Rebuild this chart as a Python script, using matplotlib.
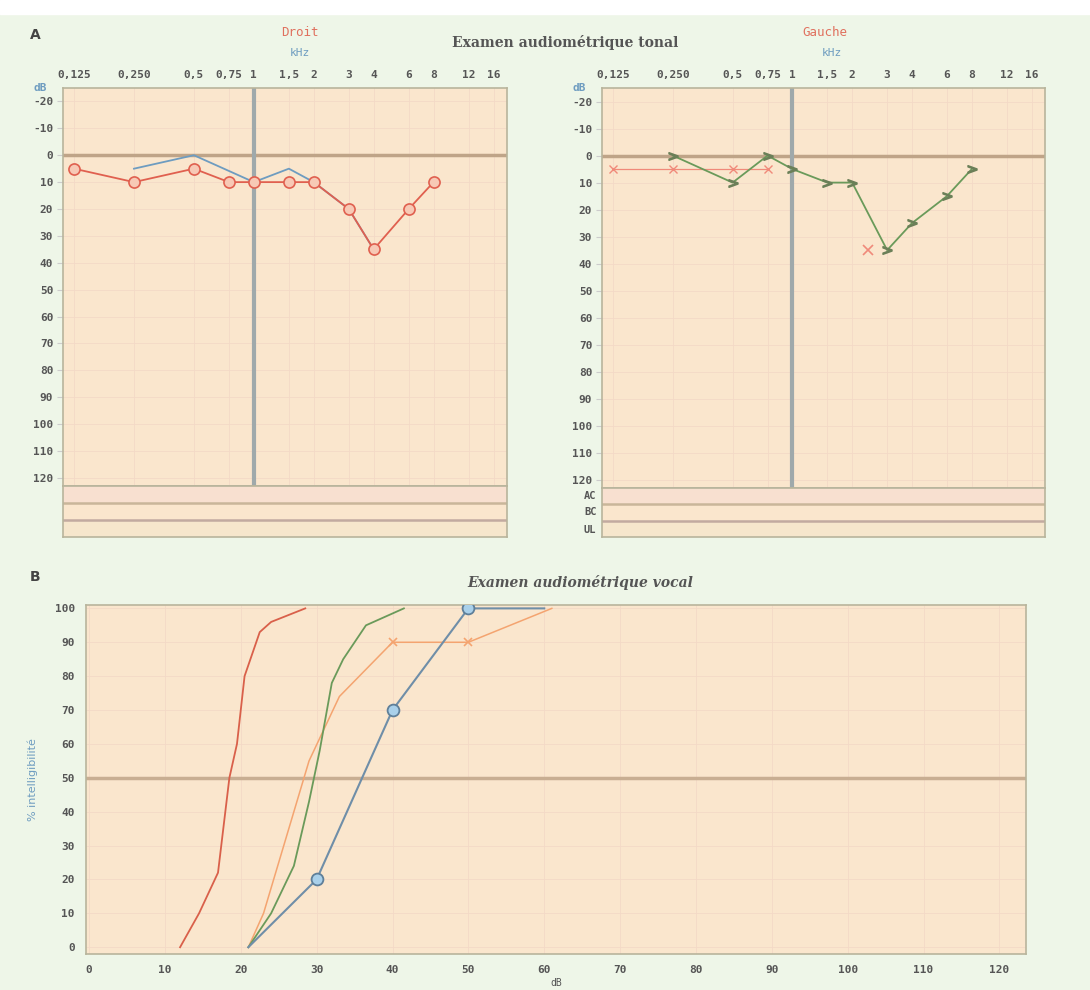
import numpy as np
import matplotlib.pyplot as plt
from matplotlib.patches import Rectangle

plt.rcParams['axes.unicode_minus'] = False

# audiogram frequencies (kHz)
freq_ticks = [0.125, 0.25, 0.5, 0.75, 1, 1.5, 2, 3, 4, 6, 8, 12, 16]
freq_labels = ['0,125', '0,250', '0,5', '0,75', '1', '1,5', '2', '3', '4', '6', '8', '12', '16']
db_ticks = [-20, -10, 0, 10, 20, 30, 40, 50, 60, 70, 80, 90, 100, 110, 120]

# right ear (Droit)
droit_ac_f = [0.125, 0.25, 0.5, 0.75, 1, 1.5, 2, 3, 4, 6, 8]
droit_ac_db = [5, 10, 5, 10, 10, 10, 10, 20, 35, 20, 10]
droit_bc_f = [0.25, 0.5, 1, 1.5, 2, 3, 4]
droit_bc_db = [5, 0, 10, 5, 10, 20, 35]

# left ear (Gauche)
gauche_bc_f = [0.25, 0.5, 0.75, 1, 1.5, 2, 3, 4, 6, 8]
gauche_bc_db = [0, 10, 0, 5, 10, 10, 35, 25, 15, 5]
gauche_ac_f = [0.125, 0.25, 0.5, 0.75]
gauche_ac_db = [5, 5, 5, 5]
gauche_x_f = [2.4]
gauche_x_db = [35]

# speech audiometry (dB vs % intelligibility)
rouge_db = [12, 14.5, 17, 18.5, 19.5, 20.5, 22.5, 24, 28.5]
rouge_pct = [0, 10, 22, 50, 60, 80, 93, 96, 100]
vert_db = [21, 24, 27, 29, 30.4, 32, 33.5, 36.5, 41.5]
vert_pct = [0, 10, 24, 43, 58, 78, 85, 95, 100]
orange_db = [21, 23, 25, 27, 29, 33, 40, 50, 61]
orange_pct = [0, 10, 25, 40, 55, 74, 90, 90, 100]
orange_mark_db = [40, 50]
orange_mark_pct = [90, 90]
bleu_db = [21, 30, 40, 50, 60]
bleu_pct = [0, 20, 70, 100, 100]
bleu_mark_db = [30, 40, 50]
bleu_mark_pct = [20, 70, 100]

BG = '#eef6e8'
FACE = '#fae6cd'
GRID = '#f3d9c6'
TXT = '#555555'
RED = '#e0604f'
BLUE = '#6e9cc0'
GREEN = '#6a9a5a'
ORANGE = '#f4a470'
MONO = 'DejaVu Sans Mono'

W, H = 1090, 990


def box(x0, y0, x1, y1):
    return [x0 / W, 1 - y1 / H, (x1 - x0) / W, (y1 - y0) / H]


def audiogram(ax, band, band_labels):
    ax.set_facecolor(FACE)
    ax.set_xscale('log', base=2)
    ax.set_xlim(0.11, 18.7)
    ax.set_ylim(123, -25)
    ax.xaxis.tick_top()
    ax.set_xticks(freq_ticks)
    ax.set_xticklabels(freq_labels)
    ax.xaxis.set_minor_locator(plt.NullLocator())
    ax.set_yticks(db_ticks)
    ax.tick_params(axis='x', length=0, pad=6, labelsize=8, colors=TXT)
    ax.tick_params(axis='y', length=4, width=0.8, color='#cccccc', pad=3,
                   labelsize=8, colors=TXT)
    for lab in ax.get_xticklabels() + ax.get_yticklabels():
        lab.set_family(MONO)
        lab.set_weight('bold')
    ax.grid(True, color=GRID, lw=0.6)
    ax.set_axisbelow(True)
    ax.axhline(0, color='#bfa488', lw=2.5, zorder=1.5)
    ax.axvline(1, color='#9fa9ab', lw=3, zorder=1.5)
    for s in ax.spines.values():
        s.set_color('#b8b49c')
        s.set_linewidth(1.2)
    ax.text(-0.035, 1.0, 'dB', transform=ax.transAxes, ha='right', va='center',
            color=BLUE, fontsize=8, family=MONO, weight='bold')

    band.set_facecolor(FACE)
    band.set_xlim(0, 1)
    band.set_ylim(3, 0)
    band.axhspan(0, 1, color='#f8e0d0', lw=0)
    band.axhspan(2, 3, color='#f6e6cc', lw=0)
    band.axhline(1, color='#c9b69a', lw=1.8)
    band.axhline(2, color='#c2aaa0', lw=1.8)
    band.set_xticks([])
    band.set_yticks([0.4, 1.4, 2.5])
    band.set_yticklabels(band_labels)
    band.tick_params(axis='y', length=0, pad=4, labelsize=7.5, colors=TXT)
    for lab in band.get_yticklabels():
        lab.set_family(MONO)
        lab.set_weight('bold')
    for s in band.spines.values():
        s.set_color('#b8b49c')
        s.set_linewidth(1.2)


fig = plt.figure(figsize=(W / 100, H / 100), dpi=100)
fig.patch.set_facecolor(BG)
fig.patches.append(Rectangle((0, 1 - 14 / H), 1, 14 / H, transform=fig.transFigure,
                             color='white', zorder=0))

# panel A
ax_l = fig.add_axes(box(63, 88, 507, 486))
band_l = fig.add_axes(box(63, 486, 507, 537))
ax_r = fig.add_axes(box(602, 88, 1045, 488))
band_r = fig.add_axes(box(602, 488, 1045, 537))
audiogram(ax_l, band_l, ['', '', ''])
audiogram(ax_r, band_r, ['AC', 'BC', 'UL'])

ax_l.plot(droit_bc_f, droit_bc_db, color=BLUE, lw=1.3, zorder=3)
ax_l.plot(droit_ac_f, droit_ac_db, color=RED, lw=1.3, marker='o', ms=8,
          mfc='#f7c9b5', mec=RED, mew=1.2, zorder=4)

ax_r.plot(gauche_ac_f, gauche_ac_db, color='#f08a7a', lw=0.9, marker='x', ms=6,
          mew=1, zorder=3)
ax_r.plot(gauche_x_f, gauche_x_db, ls='none', color='#f08a7a', marker='x', ms=7,
          mew=1.2, zorder=3)
ax_r.plot(gauche_bc_f, gauche_bc_db, color=GREEN, lw=1.3, marker='$>$', ms=6.5,
          mec='#6b7f58', zorder=4)

fig.text(35 / W, 1 - 35 / H, 'A', fontsize=10, weight='bold', color='#444444',
         ha='center', va='center')
fig.text(565 / W, 1 - 42 / H, 'Examen audiométrique tonal', fontsize=10,
         weight='bold', color='#555555', ha='center', va='center', family='DejaVu Serif')
fig.text(300 / W, 1 - 32 / H, 'Droit', fontsize=9, color='#e0705e', ha='center',
         va='center', family=MONO)
fig.text(300 / W, 1 - 53 / H, 'kHz', fontsize=8, color=BLUE, ha='center',
         va='center', family=MONO)
fig.text(825 / W, 1 - 33 / H, 'Gauche', fontsize=9, color='#e0705e', ha='center',
         va='center', family=MONO)
fig.text(832 / W, 1 - 53 / H, 'kHz', fontsize=8, color=BLUE, ha='center',
         va='center', family=MONO)

# panel B
ax_b = fig.add_axes(box(86, 605, 1026, 954))
ax_b.set_facecolor(FACE)
ax_b.set_xlim(-0.4, 123.5)
ax_b.set_ylim(-2, 101)
ax_b.set_xticks(np.arange(0, 121, 10))
ax_b.set_yticks(np.arange(0, 101, 10))
ax_b.tick_params(length=0, pad=8, labelsize=8, colors=TXT)
for lab in ax_b.get_xticklabels() + ax_b.get_yticklabels():
    lab.set_family(MONO)
    lab.set_weight('bold')
ax_b.grid(True, color=GRID, lw=0.6)
ax_b.set_axisbelow(True)
ax_b.axhline(50, color='#c8ae92', lw=2.5, zorder=1.5)
for s in ax_b.spines.values():
    s.set_color('#b8b49c')
    s.set_linewidth(1.2)
ax_b.set_xlabel('dB', fontsize=7, color=TXT, family=MONO, labelpad=2)
ax_b.set_ylabel('% intelligibilité', fontsize=8, color=BLUE, labelpad=12)

ax_b.plot(rouge_db, rouge_pct, color='#d9604a', lw=1.3, zorder=3)
ax_b.plot(orange_db, orange_pct, color=ORANGE, lw=1.1, zorder=3)
ax_b.plot(orange_mark_db, orange_mark_pct, ls='none', marker='x', ms=6,
          color=ORANGE, mew=1.2, zorder=4)
ax_b.plot(vert_db, vert_pct, color=GREEN, lw=1.3, zorder=3)
ax_b.plot(bleu_db, bleu_pct, color='#6f8ea8', lw=1.5, zorder=3)
ax_b.plot(bleu_mark_db, bleu_mark_pct, ls='none', marker='o', ms=8.5,
          mfc='#a9d0ea', mec='#5f7f99', mew=1.3, zorder=4)

fig.text(35 / W, 1 - 577 / H, 'B', fontsize=10, weight='bold', color='#444444',
         ha='center', va='center')
fig.text(580 / W, 1 - 583 / H, 'Examen audiométrique vocal', fontsize=10,
         weight='bold', style='italic', color='#555555', ha='center', va='center',
         family='DejaVu Serif')

fig.savefig('out.png', dpi=100, facecolor=fig.get_facecolor())
